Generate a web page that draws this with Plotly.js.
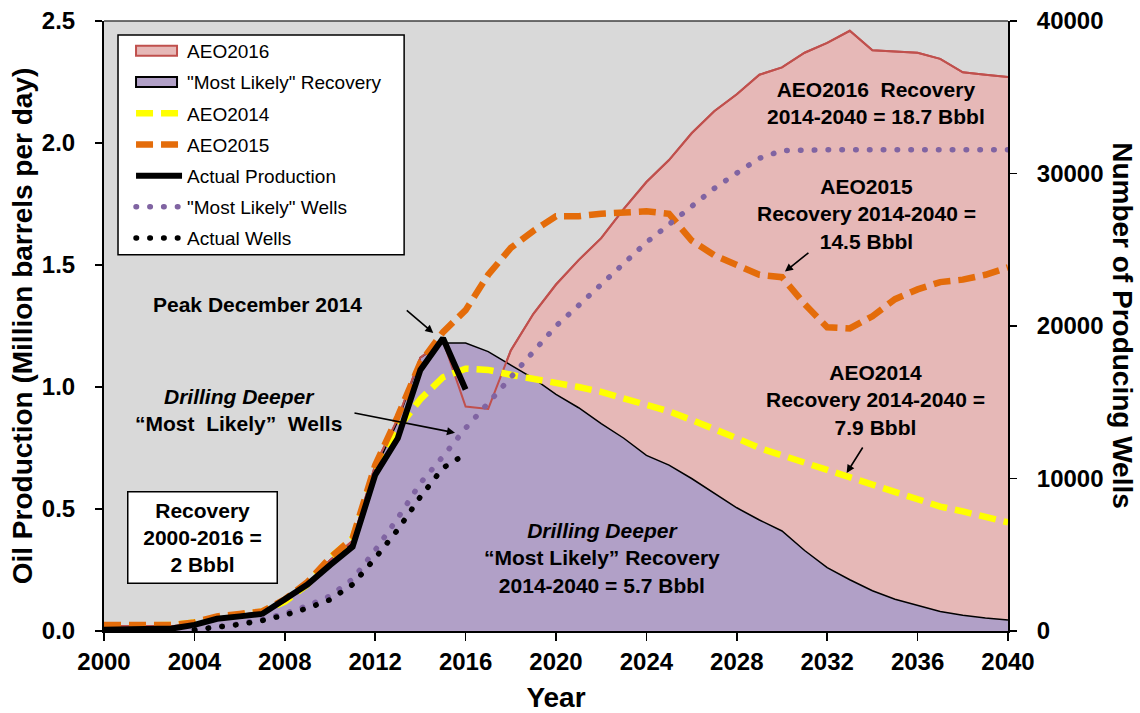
<!DOCTYPE html>
<html>
<head>
<meta charset="utf-8">
<script src="https://cdn.plot.ly/plotly-3.0.1.min.js"></script>
<style>
html,body{margin:0;padding:0;background:#fff;}
#chart{width:1140px;height:713px;}
</style>
</head>
<body>
<div id="chart"></div>
<script>
// ---- data ----
const years = [2000,2001,2002,2003,2004,2005,2006,2007,2008,2009,2010,2011,2012,2013,2014,2015,2016,2017,2018,2019,2020,2021,2022,2023,2024,2025,2026,2027,2028,2029,2030,2031,2032,2033,2034,2035,2036,2037,2038,2039,2040];
const aeo2016 = [0.02,0.02,0.02,0.02,0.03,0.055,0.065,0.08,0.12,0.19,0.29,0.37,0.68,0.87,1.12,1.19,0.92,0.91,1.15,1.30,1.42,1.52,1.61,1.73,1.84,1.93,2.04,2.13,2.20,2.28,2.31,2.37,2.41,2.46,2.38,2.375,2.37,2.345,2.29,2.28,2.27];
const mostLikelyRecovery = [0.01,0.01,0.01,0.015,0.03,0.055,0.065,0.075,0.12,0.19,0.29,0.36,0.66,0.86,1.12,1.18,1.18,1.145,1.09,1.035,0.97,0.915,0.85,0.79,0.72,0.68,0.625,0.565,0.505,0.455,0.41,0.33,0.26,0.21,0.165,0.13,0.105,0.08,0.065,0.053,0.045];
const aeo2014 = [0.02,0.02,0.02,0.025,0.035,0.055,0.065,0.08,0.12,0.19,0.30,0.38,0.66,0.83,0.95,1.04,1.075,1.07,1.05,1.035,1.02,1.0,0.98,0.955,0.93,0.90,0.865,0.83,0.79,0.75,0.72,0.69,0.66,0.63,0.595,0.565,0.535,0.51,0.49,0.47,0.445];
const aeo2015 = [0.025,0.025,0.025,0.025,0.035,0.06,0.07,0.08,0.13,0.2,0.3,0.38,0.68,0.88,1.10,1.225,1.315,1.46,1.57,1.64,1.70,1.70,1.71,1.715,1.72,1.71,1.60,1.54,1.50,1.46,1.45,1.34,1.245,1.24,1.29,1.36,1.40,1.43,1.44,1.46,1.49];
const actualYears = [2000,2001,2002,2003,2004,2005,2006,2007,2008,2009,2010,2011,2012,2013,2014,2015,2016];
const actualProduction = [0.005,0.005,0.005,0.01,0.025,0.05,0.06,0.07,0.13,0.19,0.27,0.345,0.64,0.79,1.07,1.20,0.99];
const mlWellYears = [2004,2005,2006,2007,2008,2009,2010,2011,2012,2013,2014,2015,2016,2017,2018,2019,2020,2021,2022,2023,2024,2025,2026,2027,2028,2029,2030,2031,2032,2033,2034,2035,2036,2037,2038,2039,2040];
const mostLikelyWells = [60,240,470,760,1150,1650,2300,3400,5300,7400,9700,11450,13300,14950,16650,18300,20000,21350,22750,24150,25480,26660,27870,29020,30030,31000,31500,31550,31550,31550,31550,31550,31550,31550,31550,31550,31550];
const actualWellYears = [2004,2005,2006,2007,2008,2009,2010,2011,2012,2013,2014,2015,2016];
const actualWells = [80,215,430,690,1040,1500,2050,3050,4780,6650,8800,10700,11600];
const xTicks = [2000,2004,2008,2012,2016,2020,2024,2028,2032,2036,2040];

const FONT = 'Arial, "Liberation Sans", Helvetica, sans-serif';
const DOTDASH = '0.5px,13.3px';

const traces = [
  {x: years, y: aeo2016, name: 'AEO2016', type: 'scatter', mode: 'lines', fill: 'tozeroy',
   fillcolor: '#E6B8B7', line: {color: '#C0504D', width: 2}, legendgroup: 'g1'},
  {x: years, y: mostLikelyRecovery, name: '"Most Likely" Recovery', type: 'scatter', mode: 'lines', fill: 'tozeroy',
   fillcolor: '#B1A0C7', line: {color: '#000000', width: 1.5}, legendgroup: 'g2'},
  {x: years, y: aeo2016, name: 'AEO2016 line', type: 'scatter', mode: 'lines', showlegend: false,
   line: {color: '#C0504D', width: 2}, legendgroup: 'g1', hoverinfo: 'skip'},
  {x: years, y: aeo2014, name: 'AEO2014', type: 'scatter', mode: 'lines',
   line: {color: '#FFFF00', width: 6.5, dash: '17px,8px'}, legendgroup: 'g3'},
  {x: years, y: aeo2015, name: 'AEO2015', type: 'scatter', mode: 'lines',
   line: {color: '#E46C0A', width: 6.5, dash: '17px,8px'}, legendgroup: 'g4'},
  {x: actualYears, y: actualProduction, name: 'Actual Production', type: 'scatter', mode: 'lines',
   line: {color: '#000000', width: 6}, legendgroup: 'g5'},
  {x: mlWellYears, y: mostLikelyWells, name: '"Most Likely" Wells', type: 'scatter', mode: 'lines', yaxis: 'y2',
   line: {color: '#8064A2', width: 5.5, dash: DOTDASH}, legendgroup: 'g6'},
  {x: actualWellYears, y: actualWells, name: 'Actual Wells', type: 'scatter', mode: 'lines', yaxis: 'y2',
   line: {color: '#000000', width: 5.5, dash: DOTDASH}, legendgroup: 'g7'}
];

const bold = (s, c) => ({family: FONT, size: s, color: c || '#000', weight: 'bold'});

function txt(x, y, text, extra) {
  return Object.assign({x: x, y: y, xref: 'x', yref: 'y', text: text, showarrow: false,
    font: bold(21), align: 'center', xanchor: 'center', yanchor: 'middle'}, extra || {});
}
function arrow(x, y, ax, ay) {
  return {x: x, y: y, xref: 'x', yref: 'y', text: '', showarrow: true, ax: ax, ay: ay,
    arrowhead: 2, arrowsize: 1, arrowwidth: 1.6, arrowcolor: '#000', standoff: 0};
}

const annotations = [
  txt(2006.77, 1.337, 'Peak December 2014'),
  arrow(2014.57, 1.221, -28, -24),
  txt(2005.93, 0.907, '<i>Drilling Deeper</i><br>\u201CMost  Likely\u201D  Wells'),
  arrow(2015.53, 0.8125, -102, -20),
  txt(2004.38, 0.385, 'Recovery<br>2000-2016 =<br>2 Bbbl', {bgcolor: '#FFFFFF', bordercolor: '#000', borderwidth: 1.5,
    width: 146, height: 88, borderpad: 1}),
  txt(2022.04, 0.301, '<i>Drilling Deeper</i><br>\u201CMost Likely\u201D Recovery<br>2014-2040 = 5.7 Bbbl'),
  txt(2034.16, 2.162, 'AEO2016  Recovery<br>2014-2040 = 18.7 Bbbl'),
  txt(2033.75, 1.707, 'AEO2015<br>Recovery 2014-2040 =<br>14.5 Bbbl'),
  arrow(2030.13, 1.473, 25, -20),
  txt(2034.15, 0.948, 'AEO2014<br>Recovery 2014-2040 =<br>7.9 Bbbl'),
  arrow(2032.86, 0.6476, 17, -27),
  {xref: 'paper', yref: 'paper', x: 1.127, y: 0.5, text: 'Number of Producing Wells', textangle: 90,
   showarrow: false, font: bold(28), xanchor: 'center', yanchor: 'middle'}
];

const layout = {
  width: 1140, height: 713,
  margin: {l: 104, r: 132, t: 21, b: 82},
  paper_bgcolor: '#FFFFFF',
  plot_bgcolor: '#D9D9D9',
  font: {family: FONT, color: '#000'},
  showlegend: true,
  legend: {x: 0.0299, y: 0.982, xanchor: 'left', yanchor: 'top', bgcolor: 'rgba(0,0,0,0)',
    borderwidth: 0, font: {family: FONT, size: 19, color: '#000'},
    traceorder: 'grouped', tracegroupgap: 3.5, itemwidth: 46},
  xaxis: {range: [2000, 2040], tickmode: 'array', tickvals: xTicks, ticktext: xTicks.map(String),
    ticks: 'outside', ticklen: 8, tickwidth: 1.5, tickcolor: '#000',
    showline: true, linecolor: '#000', linewidth: 2, showgrid: false, zeroline: false,
    tickfont: bold(24), title: {text: 'Year', font: bold(28), standoff: 14}},
  yaxis: {range: [0, 2.5], dtick: 0.5, tick0: 0, tickformat: '.1f',
    ticks: 'outside', ticklen: 7, tickwidth: 1.5, tickcolor: '#000', ticklabelstandoff: 15,
    showline: true, linecolor: '#000', linewidth: 2, showgrid: false, zeroline: false,
    tickfont: bold(24), title: {text: 'Oil Production (Million barrels per day)', font: bold(28), standoff: 1}},
  yaxis2: {range: [0, 40000], dtick: 10000, tick0: 0, tickformat: 'd', overlaying: 'y', side: 'right',
    ticks: 'outside', ticklen: 7, tickwidth: 1.5, tickcolor: '#000', ticklabelstandoff: 15,
    showline: true, linecolor: '#000', linewidth: 2, showgrid: false, zeroline: false,
    tickfont: bold(24)},
  shapes: [
    {type: 'line', xref: 'paper', yref: 'paper', x0: 0, x1: 1, y0: 1, y1: 1,
     line: {color: '#404040', width: 1.5}},
    {type: 'rect', xref: 'paper', yref: 'paper', x0: 0.0155, x1: 0.332, y0: 0.6167, y1: 0.977,
     fillcolor: '#FFFFFF', line: {color: '#000000', width: 1.5}, layer: 'above'}
  ],
  annotations: annotations
};

function styleTweaks() {
  document.querySelectorAll('path.js-line').forEach(p => {
    const da = p.style.strokeDasharray || p.getAttribute('stroke-dasharray') || '';
    if (da.indexOf('13.3') >= 0) p.style.strokeLinecap = 'round';
  });
  document.querySelectorAll('.legend .traces').forEach(t => {
    const f = t.querySelector('path.js-fill');
    if (!f || !f.getAttribute('d')) return;
    const cd = t.__data__;
    const tr = cd && cd[0] && cd[0].trace;
    if (!tr || !tr.fill || tr.fill === 'none') return;
    f.setAttribute('d', 'M5,-5h41v10h-41z');
    f.style.stroke = tr.line.color;
    f.style.strokeWidth = '2px';
    const l = t.querySelector('path.js-line');
    if (l) l.style.display = 'none';
  });
}

Plotly.newPlot('chart', traces, layout, {displayModeBar: false, staticPlot: true}).then(gd => {
  styleTweaks();
  gd.on('plotly_afterplot', styleTweaks);
});
</script>
</body>
</html>
